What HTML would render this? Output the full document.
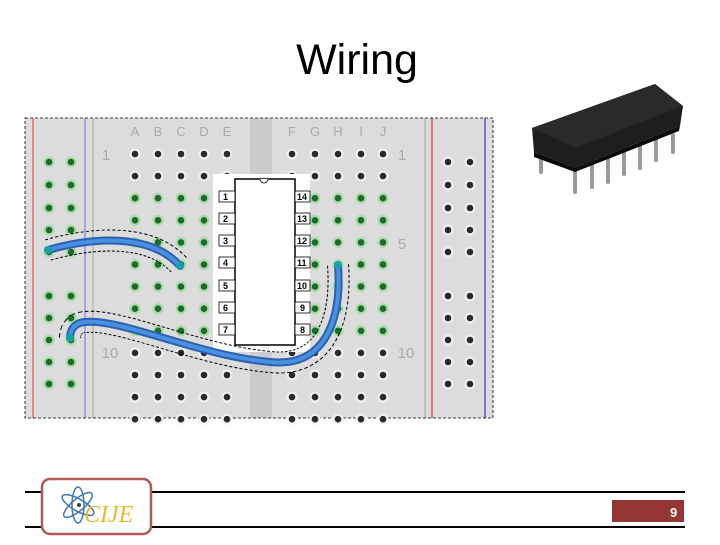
<!DOCTYPE html>
<html><head><style>
body{margin:0;background:#fff;width:720px;height:540px;overflow:hidden;font-family:"Liberation Sans",sans-serif}
</style></head><body>
<svg width="720" height="540" xmlns="http://www.w3.org/2000/svg">
<defs>
<path id="w1" d="M48 250 C90 238,150 232,180 266"/>
<path id="w2" d="M338 265 C342 320,325 368,270 362 C200 356,120 318,85 322 C72 323,70 333,70 338"/>
<mask id="m" maskUnits="userSpaceOnUse" x="0" y="0" width="720" height="540">
<rect width="720" height="540" fill="#fff"/>
<use href="#w1" fill="none" stroke="#000" stroke-width="20" stroke-linecap="round"/>
<use href="#w2" fill="none" stroke="#000" stroke-width="20" stroke-linecap="round"/>
</mask>
</defs>
<text x="357" y="74" font-size="43" text-anchor="middle" font-family="Liberation Sans">Wiring</text>
<rect x="25" y="118" width="468" height="300" fill="#dcdcdc"/>
<rect x="250" y="118" width="22" height="300" fill="#cbcbcb"/>
<line x1="33" y1="118" x2="33" y2="418" stroke="#e05050" stroke-width="1.2"/>
<line x1="85" y1="118" x2="85" y2="418" stroke="#8080e0" stroke-width="1.2"/>
<line x1="93" y1="118" x2="93" y2="418" stroke="#c0c0c0" stroke-width="2"/>
<line x1="425" y1="118" x2="425" y2="418" stroke="#c0c0c0" stroke-width="2"/>
<line x1="432" y1="118" x2="432" y2="418" stroke="#e03030" stroke-width="1.2"/>
<line x1="485" y1="118" x2="485" y2="418" stroke="#3030d0" stroke-width="1.2"/>
<rect x="25" y="118" width="468" height="300" fill="none" stroke="#000" stroke-dasharray="3,2" stroke-width="0.8"/>
<g font-size="13" fill="#aaa" text-anchor="middle">
<text x="135" y="136">A</text><text x="158" y="136">B</text><text x="181" y="136">C</text><text x="204" y="136">D</text><text x="227" y="136">E</text>
<text x="292" y="136">F</text><text x="315" y="136">G</text><text x="338" y="136">H</text><text x="361" y="136">I</text><text x="383" y="136">J</text>
<text x="106" y="160" font-size="15">1</text><text x="110" y="358" font-size="15">10</text>
<text x="402" y="160" font-size="15">1</text><text x="402" y="249" font-size="15">5</text><text x="406" y="358" font-size="15">10</text>
</g>
<g id="holes"></g>
<script>
var g=document.getElementById('holes'),ns='http://www.w3.org/2000/svg';
function hole(x,y,green){var c=document.createElementNS(ns,'circle');c.setAttribute('cx',x);c.setAttribute('cy',y);c.setAttribute('r',5.5);c.setAttribute('fill',green?'#a8dca8':'#f0f0f0');g.appendChild(c);
var d=document.createElementNS(ns,'circle');d.setAttribute('cx',x);d.setAttribute('cy',y);d.setAttribute('r',3.3);d.setAttribute('fill',green?'#1f6a2a':'#2a2a2a');g.appendChild(d);}
var cols=[135,158,181,204,227,292,315,338,361,383];
for(var i=0;i<13;i++){var y=154+22.1*i;cols.forEach(function(x){hole(x,y,i>=2&&i<=8);});}
var rr=[162,185,208,230,252,296,318,340,362,384];
rr.forEach(function(y){hole(49,y,true);hole(71,y,true);hole(448,y,false);hole(470,y,false);});
</script>
<rect x="213" y="174" width="97" height="178" fill="#fff"/>
<rect x="235" y="179" width="60" height="166" fill="#fff" stroke="#000" stroke-width="1.5"/>
<path d="M260 179 a4 4 0 0 0 8 0" fill="#fff" stroke="#000" stroke-width="0.8"/>
<g font-size="9" font-weight="bold" fill="#000">
<g fill="#fff" stroke="#000" stroke-width="0.8">
<rect x="219" y="191" width="16" height="11"/><rect x="219" y="213" width="16" height="11"/><rect x="219" y="235" width="16" height="11"/><rect x="219" y="257" width="16" height="11"/><rect x="219" y="280" width="16" height="11"/><rect x="219" y="302" width="16" height="11"/><rect x="219" y="324" width="16" height="11"/>
<rect x="295" y="191" width="15" height="11"/><rect x="295" y="213" width="15" height="11"/><rect x="295" y="235" width="15" height="11"/><rect x="295" y="257" width="15" height="11"/><rect x="295" y="280" width="15" height="11"/><rect x="295" y="302" width="15" height="11"/><rect x="295" y="324" width="15" height="11"/>
</g>
<text x="223" y="200">1</text><text x="223" y="222">2</text><text x="223" y="244">3</text><text x="223" y="266">4</text><text x="223" y="289">5</text><text x="223" y="311">6</text><text x="223" y="333">7</text>
<text x="297" y="200">14</text><text x="297" y="222">13</text><text x="297" y="244">12</text><text x="297" y="266">11</text><text x="297" y="289">10</text><text x="300" y="311">9</text><text x="300" y="333">8</text>
</g>
<g fill="none" stroke-linecap="round">
<g mask="url(#m)">
<use href="#w1" stroke="#000" stroke-width="22" stroke-dasharray="3,2" stroke-linecap="butt"/>
<use href="#w2" stroke="#000" stroke-width="22" stroke-dasharray="3,2" stroke-linecap="butt"/>
</g>
<use href="#w1" stroke="#2a62b0" stroke-width="8"/>
<use href="#w1" stroke="#4a90e0" stroke-width="4"/>
<use href="#w2" stroke="#2a62b0" stroke-width="8"/>
<use href="#w2" stroke="#4a90e0" stroke-width="4"/>
</g>
<g fill="#1aa0a8"><circle cx="48" cy="250" r="4"/><circle cx="180" cy="266" r="4"/><circle cx="338" cy="265" r="4"/><circle cx="70" cy="338" r="4"/></g>
<g stroke="#999" stroke-width="4" stroke-linecap="round">
<line x1="541" y1="160" x2="541" y2="172"/>
<line x1="575" y1="165" x2="575" y2="192"/><line x1="592" y1="160" x2="592" y2="187"/><line x1="608" y1="155" x2="608" y2="182"/><line x1="624" y1="150" x2="624" y2="174"/><line x1="640" y1="145" x2="640" y2="168"/><line x1="656" y1="140" x2="656" y2="160"/><line x1="673" y1="135" x2="673" y2="152"/>
</g>
<path d="M532 128 L655 84 L683 106 L680 126 L575 168 L534 152 Z" fill="#1e1e1e"/>
<path d="M534 152 L575 168 L680 126 L679 131 L575 172 L534 157 Z" fill="#0a0a0a"/>
<path d="M532 128 L655 84 L683 106 L575 148 Z" fill="#2a2a2a"/>
<line x1="25" y1="492" x2="685" y2="492" stroke="#000" stroke-width="2"/>
<line x1="25" y1="527" x2="685" y2="527" stroke="#000" stroke-width="2"/>
<rect x="42" y="479" width="109" height="55" rx="8" fill="#fff" stroke="#b05858" stroke-width="2.5"/>
<g fill="none" stroke="#3a7ab0" stroke-width="1.5">
<ellipse cx="78" cy="505" rx="18" ry="6" transform="rotate(30 78 505)"/>
<ellipse cx="78" cy="505" rx="18" ry="6" transform="rotate(-40 78 505)"/>
<ellipse cx="78" cy="505" rx="18" ry="6" transform="rotate(90 78 505)"/>
</g>
<circle cx="79" cy="505" r="2" fill="#444"/>
<text x="84" y="522" font-family="Liberation Serif" font-style="italic" font-size="24" fill="#e8b830">CIJE</text>
<rect x="612" y="500" width="72" height="22" fill="#943634"/>
<text x="670" y="517" font-size="13" font-weight="bold" fill="#fff">9</text>
</svg>
</body></html>
